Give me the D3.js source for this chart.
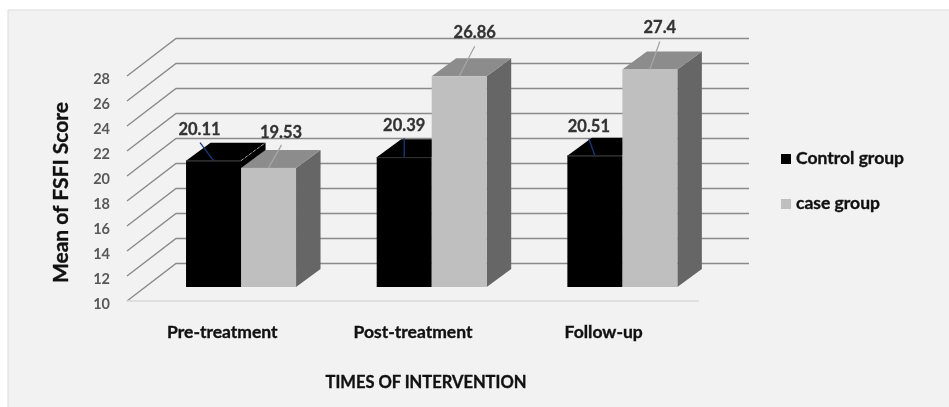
<!DOCTYPE html>
<html>
<head>
<meta charset="utf-8">
<script src="https://cdnjs.cloudflare.com/ajax/libs/d3/7.8.5/d3.min.js"></script>
<style>
    html, body { margin: 0; padding: 0; background: #fff; }
    svg { display: block; font-family: Lato, "Open Sans", sans-serif; filter: blur(0.45px); }
    .heavy { stroke: #111; stroke-width: 0.35px; }
</style>
</head>
<body>
<div id="chart"></div>
<script>
// Values
const categories = ["Pre-treatment", "Post-treatment", "Follow-up"];
const seriesNames = ["Control group", "case group"];
const controlValues = [20.11, 20.39, 20.51];
const caseValues = [19.53, 26.86, 27.4];
const yTicks = [10, 12, 14, 16, 18, 20, 22, 24, 26, 28];

const width = 949, height = 407;

// Front plane of the 3D box and how far the back wall is shifted from it
const plot = {left: 127, right: 699, top: 76, bottom: 301};
const wall = {dx: 49, dy: -37.5};
// bars stand part way into the box
const barInset = {dx: 18.7, dy: -14};
const barDepth = {dx: 24.5, dy: -18};

// Label placement relative to the top centre of each bar's front: [label dx, label dy, leader dx, leader dy]
const controlLabelPos = [[-14, -31, -13.5, -18], [0, -32, 0, -19], [-6, -29.5, -6, -17]];
const caseLabelPos = [[12.5, -36, 13, -23], [15.5, -44, 15.5, -30], [10, -42, 10, -28]];

const seriesStyle = [
    {front: "#000000", top: "#000000", side: "#000000", leader: "#1a3a7a"},
    {front: "#bfbfbf", top: "#8c8c8c", side: "#666666", leader: "#a6a6a6"}
];

const svg = d3.select("#chart").append("svg")
    .attr("width", width)
    .attr("height", height);

// Panel background, runs off the right and bottom of the picture
svg.append("rect")
    .attr("x", 8).attr("y", 10)
    .attr("width", width).attr("height", height)
    .attr("fill", "#f2f2f2")
    .attr("stroke", "#dcdcdc")
    .attr("stroke-width", 1);

const x0 = d3.scaleBand().domain(categories).range([plot.left, plot.right]);
const x1 = d3.scaleBand().domain(seriesNames)
    .range([x0.bandwidth() / 2 - 55, x0.bandwidth() / 2 + 55]);
const y = d3.scaleLinear().domain([10, 28]).range([plot.bottom, plot.top]);

// Gridlines: slanted part on the side wall, then straight along the back wall
const grid = svg.append("g").attr("class", "grid");
grid.selectAll("path")
    .data(yTicks)
    .join("path")
    .attr("fill", "none")
    .attr("stroke", "#8a8a8a")
    .attr("stroke-width", 1.4)
    .attr("d", d => d3.line()([
        [plot.left, y(d)],
        [plot.left + wall.dx, y(d) + wall.dy],
        [plot.right + wall.dx + 1, y(d) + wall.dy]
    ]));

// Front edge of the floor
svg.append("line")
    .attr("x1", plot.left).attr("x2", plot.right)
    .attr("y1", y(10)).attr("y2", y(10))
    .attr("stroke", "#d9d9d9")
    .attr("stroke-width", 1.3);

// Value axis
const yAxis = d3.axisLeft(y)
    .tickValues(yTicks)
    .tickSize(0)
    .tickPadding(17);

const yAxisG = svg.append("g")
    .attr("transform", `translate(${plot.left},0)`)
    .call(yAxis);
yAxisG.select(".domain").remove();
yAxisG.selectAll("text")
    .attr("dy", "0.55em")
    .style("font-family", "Lato, sans-serif")
    .style("font-size", "14.5px")
    .style("font-weight", "700")
    .attr("fill", "#595959");

// Category axis
const xAxis = d3.axisBottom(x0).tickSize(0).tickPadding(24.5);
const xAxisG = svg.append("g")
    .attr("transform", `translate(0,${plot.bottom})`)
    .call(xAxis);
xAxisG.select(".domain").remove();
xAxisG.selectAll("text")
    .attr("class", "heavy")
    .style("font-family", "Lato, sans-serif")
    .style("font-size", "17.5px")
    .style("font-weight", "700")
    .attr("fill", "#111");

// Bars, one group per category, drawn left to right so the nearer faces overlap
const bars = svg.append("g").attr("class", "bars");
const barWidth = x1.bandwidth();
const poly = pts => d3.line()(pts) + "Z";

const barData = [];
categories.forEach((c, i) => {
    seriesNames.forEach((s, j) => {
        barData.push({
            category: c,
            series: s,
            seriesIndex: j,
            value: (j === 0 ? controlValues : caseValues)[i],
            labelPos: (j === 0 ? controlLabelPos : caseLabelPos)[i]
        });
    });
});

bars.selectAll("g")
    .data(barData)
    .join("g")
    .each(function(d) {
        const g = d3.select(this);
        const st = seriesStyle[d.seriesIndex];
        const xl = x0(d.category) + x1(d.series) + barInset.dx;
        const xr = xl + barWidth;
        const yt = y(d.value) + barInset.dy;
        const yb = y(10) + barInset.dy;

        g.append("path").attr("fill", st.side)
            .attr("d", poly([[xr, yt], [xr + barDepth.dx, yt + barDepth.dy], [xr + barDepth.dx, yb + barDepth.dy], [xr, yb]]));
        g.append("path").attr("fill", st.top)
            .attr("d", poly([[xl, yt], [xl + barDepth.dx, yt + barDepth.dy], [xr + barDepth.dx, yt + barDepth.dy], [xr, yt]]));
        g.append("rect").attr("fill", st.front)
            .attr("x", xl).attr("y", yt)
            .attr("width", barWidth).attr("height", yb - yt);

        // edge highlights on the black bar, as in the original; the next bar hides them where it is taller
        if (d.seriesIndex === 0) {
            g.append("line")
                .attr("x1", xl).attr("x2", xr)
                .attr("y1", yt + 0.5).attr("y2", yt + 0.5)
                .attr("stroke", "#333").attr("stroke-width", 1);
            g.append("line")
                .attr("x1", xr).attr("y1", yt)
                .attr("x2", xr + barDepth.dx).attr("y2", yt + barDepth.dy)
                .attr("stroke", "#bbb").attr("stroke-width", 0.8)
                .attr("stroke-dasharray", "3 2");
        }
    });

// Data labels and leader lines go above all the bars
const labels = svg.append("g").attr("class", "labels");
barData.forEach(d => {
    const st = seriesStyle[d.seriesIndex];
    const cx = x0(d.category) + x1(d.series) + barInset.dx + barWidth / 2;
    const cy = y(d.value) + barInset.dy;

    labels.append("line")
        .attr("x1", cx + d.labelPos[2]).attr("y1", cy + d.labelPos[3])
        .attr("x2", cx).attr("y2", cy)
        .attr("stroke", st.leader)
        .attr("stroke-width", 1.3);

    labels.append("text")
        .attr("x", cx + d.labelPos[0])
        .attr("y", cy + d.labelPos[1])
        .attr("dy", "0.35em")
        .attr("text-anchor", "middle")
        .style("font-size", "16.5px")
        .style("font-weight", "700")
        .style("stroke", "#333")
        .style("stroke-width", "0.3px")
        .attr("fill", "#333")
        .text(d.value);
});

// Axis titles
svg.append("text")
    .attr("class", "heavy")
    .attr("x", 426)
    .attr("y", 382)
    .attr("dy", "0.35em")
    .attr("text-anchor", "middle")
    .style("font-size", "16.5px")
    .style("font-weight", "700")
    .attr("fill", "#111")
    .text("TIMES OF INTERVENTION");

svg.append("text")
    .attr("class", "heavy")
    .attr("transform", "translate(61,192.5) rotate(-90)")
    .attr("dy", "0.35em")
    .attr("text-anchor", "middle")
    .style("font-size", "21px")
    .style("font-weight", "700")
    .attr("fill", "#111")
    .text("Mean of FSFI Score");

// Legend
const legend = svg.append("g").attr("class", "legend");
const legendY = d3.scalePoint().domain(seriesNames).range([159, 204]);
seriesNames.forEach((s, i) => {
    legend.append("rect")
        .attr("x", 781).attr("y", legendY(s) - 5)
        .attr("width", 10).attr("height", 10)
        .attr("fill", seriesStyle[i].front);
    legend.append("text")
        .attr("class", "heavy")
        .attr("x", 796).attr("y", legendY(s))
        .attr("dy", "0.3em")
        .style("font-size", "17.5px")
        .style("font-weight", "700")
        .attr("fill", "#111")
        .text(s);
});
</script>
</body>
</html>
